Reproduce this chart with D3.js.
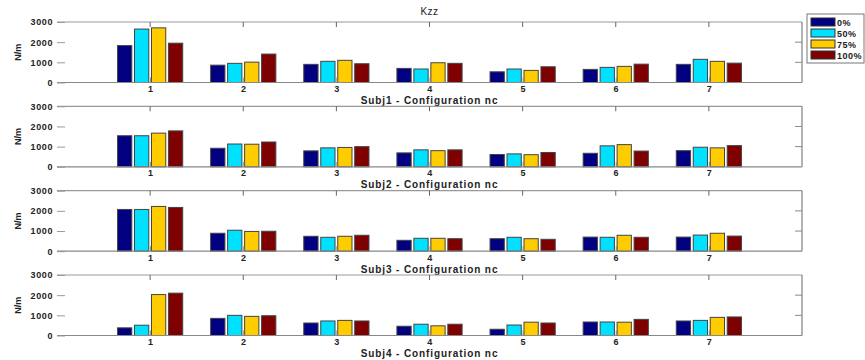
<!DOCTYPE html>
<html>
<head>
<meta charset="utf-8">
<script src="https://cdn.jsdelivr.net/npm/d3@7"></script>
<style>
  body { margin: 0; background: #fff; }
  text { font-family: "Liberation Sans", Arial, sans-serif; }
</style>
</head>
<body>
<div id="chart"></div>
<script>
var categories = [1, 2, 3, 4, 5, 6, 7];
var seriesNames = ["0%", "50%", "75%", "100%"];
var colors = ["#000080", "#00e0ff", "#ffcc00", "#7f0000"];
var yTicks = [0, 1000, 2000, 3000];
var panelLabels = ["Subj1 - Configuration nc", "Subj2 - Configuration nc",
                   "Subj3 - Configuration nc", "Subj4 - Configuration nc"];

// values per panel: [category][series]
var subj1 = [
    [1830, 2650, 2710, 1950],
    [860, 950, 1010, 1410],
    [900, 1050, 1100, 930],
    [700, 670, 980, 950],
    [530, 670, 600, 780],
    [650, 750, 800, 910],
    [900, 1150, 1050, 960]
];
var subj2 = [
    [1540, 1540, 1670, 1780],
    [920, 1130, 1120, 1230],
    [790, 940, 960, 1000],
    [690, 840, 800, 840],
    [610, 640, 600, 710],
    [670, 1040, 1100, 780],
    [800, 970, 940, 1050]
];
var subj3 = [
    [2070, 2070, 2220, 2170],
    [890, 1040, 980, 990],
    [740, 690, 740, 790],
    [540, 640, 640, 620],
    [620, 690, 620, 590],
    [700, 690, 790, 690],
    [700, 800, 890, 750]
];
var subj4 = [
    [380, 510, 2030, 2100],
    [850, 1000, 950, 980],
    [620, 720, 750, 720],
    [460, 560, 480, 560],
    [310, 520, 660, 620],
    [670, 670, 660, 800],
    [720, 750, 900, 920]
];
var panels = [subj1, subj2, subj3, subj4];

var svg = d3.select("#chart").append("svg")
    .attr("width", 865)
    .attr("height", 360);

var left = 57, right = 802, panelH = 60.5;
var tops = [22, 106.3, 190.7, 275];

var x = d3.scaleLinear().domain([0, 8]).range([left, right]);
var groupW = 0.7 * (x(1) - x(0));
var xs = d3.scaleBand()
    .domain(d3.range(seriesNames.length))
    .range([-groupW / 2, groupW / 2])
    .paddingInner(0.16);

panels.forEach(function (data, p) {
    var top = tops[p];
    var y = d3.scaleLinear().domain([0, 3000]).range([top + panelH, top]);
    var g = svg.append("g");

    // frame
    g.append("line").attr("x1", left).attr("x2", right).attr("y1", top).attr("y2", top)
        .attr("stroke", "#999").attr("stroke-width", 1.2);
    g.append("line").attr("x1", right).attr("x2", right).attr("y1", top).attr("y2", top + panelH)
        .attr("stroke", "#666").attr("stroke-width", 1);

    // bars
    g.selectAll("g.cat")
        .data(data)
        .enter().append("g")
        .attr("class", "cat")
        .attr("transform", function (d, i) { return "translate(" + x(categories[i]) + ",0)"; })
        .selectAll("rect")
        .data(function (d) { return d; })
        .enter().append("rect")
        .attr("x", function (d, j) { return xs(j); })
        .attr("y", function (d) { return y(d); })
        .attr("width", xs.bandwidth())
        .attr("height", function (d) { return y(0) - y(d); })
        .attr("fill", function (d, j) { return colors[j]; })
        .attr("stroke", "#444")
        .attr("stroke-width", 1);

    // bottom axis
    g.append("line").attr("x1", left).attr("x2", right)
        .attr("y1", y(0)).attr("y2", y(0))
        .attr("stroke", "#888").attr("stroke-width", 1.2);
    var xb = g.append("g")
        .attr("transform", "translate(0," + y(0) + ")")
        .call(d3.axisBottom(x).tickValues(categories).tickSizeInner(-5).tickSizeOuter(0).tickPadding(3));
    xb.select(".domain").remove();
    xb.selectAll(".tick line").attr("stroke", "#888");
    xb.selectAll("text").attr("font-size", 9).attr("font-weight", "bold")
        .attr("letter-spacing", 0.5).attr("fill", "#222");

    // top ticks
    g.selectAll("line.ttick")
        .data(categories)
        .enter().append("line")
        .attr("class", "ttick")
        .attr("x1", function (d) { return x(d); })
        .attr("x2", function (d) { return x(d); })
        .attr("y1", top).attr("y2", top + 5)
        .attr("stroke", "#666");

    // left axis
    var yl = g.append("g")
        .attr("transform", "translate(" + left + ",0)")
        .call(d3.axisLeft(y).tickValues(yTicks).tickFormat(d3.format("d"))
            .tickSizeInner(-8).tickSizeOuter(0).tickPadding(4));
    yl.select(".domain").remove();
    yl.selectAll(".tick line").attr("stroke", "#999");
    yl.selectAll("text").attr("font-size", 9).attr("font-weight", "bold")
        .attr("letter-spacing", 0.6).attr("fill", "#222");

    // right ticks
    g.selectAll("line.rtick")
        .data(yTicks.slice(1, 3))
        .enter().append("line")
        .attr("class", "rtick")
        .attr("x1", right).attr("x2", right - 7)
        .attr("y1", function (d) { return y(d); })
        .attr("y2", function (d) { return y(d); })
        .attr("stroke", "#888");

    // y label
    g.append("text")
        .attr("transform", "translate(21," + (top + panelH / 2) + ") rotate(-90)")
        .attr("text-anchor", "middle")
        .attr("font-size", 9)
        .attr("font-weight", "bold")
        .attr("fill", "#222")
        .text("N/m");

    // x label
    g.append("text")
        .attr("x", (left + right) / 2)
        .attr("y", top + panelH + 21.5)
        .attr("text-anchor", "middle")
        .attr("font-size", 10)
        .attr("font-weight", "bold")
        .attr("letter-spacing", 0.9)
        .attr("fill", "#222")
        .text(panelLabels[p]);
});

// title
svg.append("text")
    .attr("x", (left + right) / 2)
    .attr("y", 15)
    .attr("text-anchor", "middle")
    .attr("font-size", 10)
    .attr("letter-spacing", 0.5)
    .attr("fill", "#222")
    .text("Kzz");

// legend
var lg = svg.append("g").attr("transform", "translate(807,14)");
lg.append("rect")
    .attr("x", 0).attr("y", 0)
    .attr("width", 57).attr("height", 49)
    .attr("fill", "#fff").attr("stroke", "#777");
var items = lg.selectAll("g.item")
    .data(seriesNames)
    .enter().append("g")
    .attr("class", "item")
    .attr("transform", function (d, i) { return "translate(0," + (4 + i * 11) + ")"; });
items.append("rect")
    .attr("x", 4).attr("y", 0)
    .attr("width", 24).attr("height", 8)
    .attr("fill", function (d, i) { return colors[i]; })
    .attr("stroke", "#333");
items.append("text")
    .attr("x", 30).attr("y", 7.5)
    .attr("font-size", 9)
    .attr("font-weight", "bold")
    .attr("letter-spacing", 0.5)
    .attr("fill", "#222")
    .text(function (d) { return d; });
</script>
</body>
</html>
